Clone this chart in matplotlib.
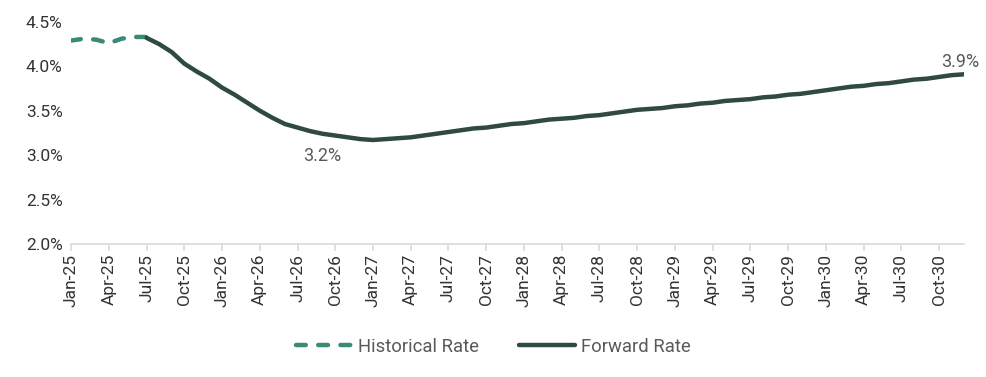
import matplotlib
matplotlib.use("Agg")
import matplotlib.pyplot as plt

plt.rcParams['font.family'] = ['Roboto', 'DejaVu Sans']

# monthly, Jan-25 .. Dec-30
months = [f"{m}-{y}" for y in range(25, 31)
          for m in ["Jan", "Feb", "Mar", "Apr", "May", "Jun",
                    "Jul", "Aug", "Sep", "Oct", "Nov", "Dec"]]

# Jan-25 .. Jul-25
hist_rate = [4.29, 4.31, 4.30, 4.26, 4.31, 4.33, 4.33]

# Jul-25 .. Dec-30
fwd_rate = [4.32, 4.25, 4.16, 4.03, 3.94, 3.86,                                      # 2025 H2
            3.76, 3.68, 3.59, 3.50, 3.42, 3.35, 3.31, 3.27, 3.24, 3.22, 3.20, 3.18,  # 2026
            3.17, 3.18, 3.19, 3.20, 3.22, 3.24, 3.26, 3.28, 3.30, 3.31, 3.33, 3.35,  # 2027
            3.36, 3.38, 3.40, 3.41, 3.42, 3.44, 3.45, 3.47, 3.49, 3.51, 3.52, 3.53,  # 2028
            3.55, 3.56, 3.58, 3.59, 3.61, 3.62, 3.63, 3.65, 3.66, 3.68, 3.69, 3.71,  # 2029
            3.73, 3.75, 3.77, 3.78, 3.80, 3.81, 3.83, 3.85, 3.86, 3.88, 3.90, 3.91]  # 2030

hist_x = list(range(0, len(hist_rate)))
fwd_x = list(range(6, 6 + len(fwd_rate)))

fig = plt.figure(figsize=(9.87, 3.77), dpi=100)
ax = fig.add_axes([0.072, 0.353, 0.905, 0.589])

ax.plot(hist_x, hist_rate, color="#3a8a78", lw=3.2, ls=(0, (2.2, 2.8)),
        dash_capstyle="round", solid_capstyle="round", label="Historical Rate")
ax.plot(fwd_x, fwd_rate, color="#2f4a40", lw=3.2, solid_capstyle="round",
        label="Forward Rate")

ax.set_xlim(0, 71)
ax.set_ylim(2.0, 4.5)
ax.set_yticks([2.0, 2.5, 3.0, 3.5, 4.0, 4.5])
ax.set_yticklabels([f"{v:.1f}%" for v in [2.0, 2.5, 3.0, 3.5, 4.0, 4.5]])
ax.set_xticks(list(range(0, 72, 3)))
ax.set_xticklabels(months[::3], rotation=90)

for s in ["top", "right", "left"]:
    ax.spines[s].set_visible(False)
ax.spines["bottom"].set_color("#d9d9d9")
ax.spines["bottom"].set_linewidth(1.2)
ax.tick_params(axis="y", length=0, labelsize=12.5, labelcolor="#333333", pad=6)
ax.tick_params(axis="x", length=5, color="#d9d9d9", width=1.2,
               labelsize=12.5, labelcolor="#333333", pad=2)

ax.annotate("3.2%", xy=(20, 3.18), xytext=(0, -6), textcoords="offset points",
            ha="center", va="top", fontsize=13, color="#595959")
ax.annotate("3.9%", xy=(71, 3.91), xytext=(-3, 2), textcoords="offset points",
            ha="center", va="bottom", fontsize=13, color="#595959")

fig.legend(loc="center", bbox_to_anchor=(0.5, 0.08), ncol=2, frameon=False,
           fontsize=13.3, labelcolor="#595959", handlelength=3.0,
           handletextpad=0.35, columnspacing=2.2)

fig.savefig("out.png", dpi=100)
